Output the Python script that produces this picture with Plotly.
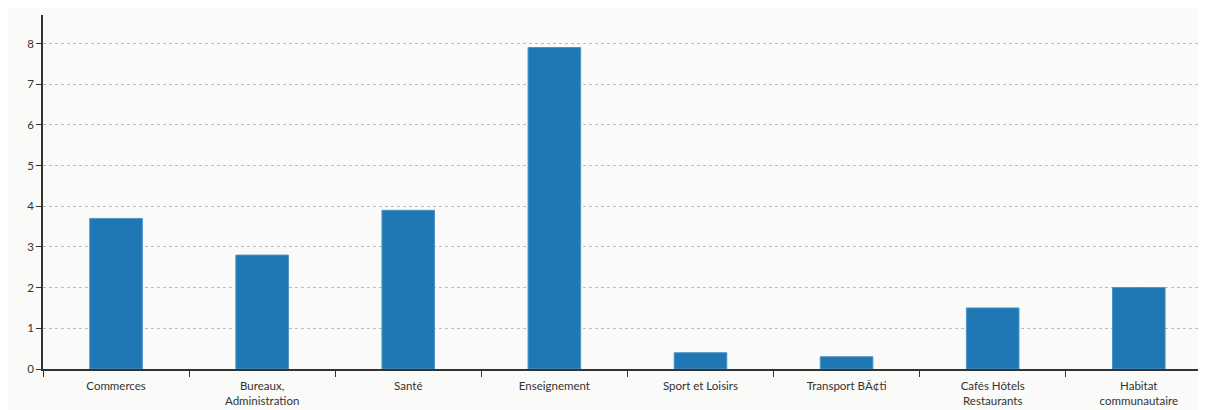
import plotly.graph_objects as go

categories = ["Commerces", "Bureaux,<br>Administration", "Santé", "Enseignement",
              "Sport et Loisirs", "Transport BÃ¢ti", "Cafés Hôtels<br>Restaurants",
              "Habitat<br>communautaire"]
values = [3.7, 2.8, 3.9, 7.9, 0.4, 0.3, 1.5, 2.0]
y_ticks = [0, 1, 2, 3, 4, 5, 6, 7, 8]

bg = "#fafaf8"
axis_color = "#333333"

fig = go.Figure()
fig.add_trace(
    go.Bar(
        x=categories,
        y=values,
        width=0.36,
        marker=dict(color="#1f77b4", line=dict(color="#4a93c9", width=1)),
        hoverinfo="x+y",
    )
)

# page body keeps its default 8px margin, so the figure is a bit smaller
fig.update_layout(
    width=1198,
    height=402,
    margin=dict(l=35, r=0, t=7, b=41, autoexpand=False),
    paper_bgcolor=bg,
    plot_bgcolor=bg,
    font=dict(family="Lato, sans-serif", size=11.5, color=axis_color),
    showlegend=False,
)
fig.update_xaxes(
    range=[-0.5, 7.46],
    automargin=False,
    showline=True,
    linecolor=axis_color,
    linewidth=1.5,
    ticks="outside",
    tickson="boundaries",
    ticklen=6,
    tickcolor=axis_color,
    ticklabelstandoff=5,
    showgrid=False,
    zeroline=False,
)
fig.update_yaxes(
    range=[0, 8.7],
    automargin=False,
    tickvals=y_ticks,
    showline=True,
    linecolor=axis_color,
    linewidth=1.5,
    ticks="outside",
    ticklen=5,
    tickcolor=axis_color,
    showgrid=True,
    gridcolor="#bdbdbd",
    griddash="3px,3px",
    gridwidth=1,
    zeroline=False,
)

fig.write_html("out.html")
